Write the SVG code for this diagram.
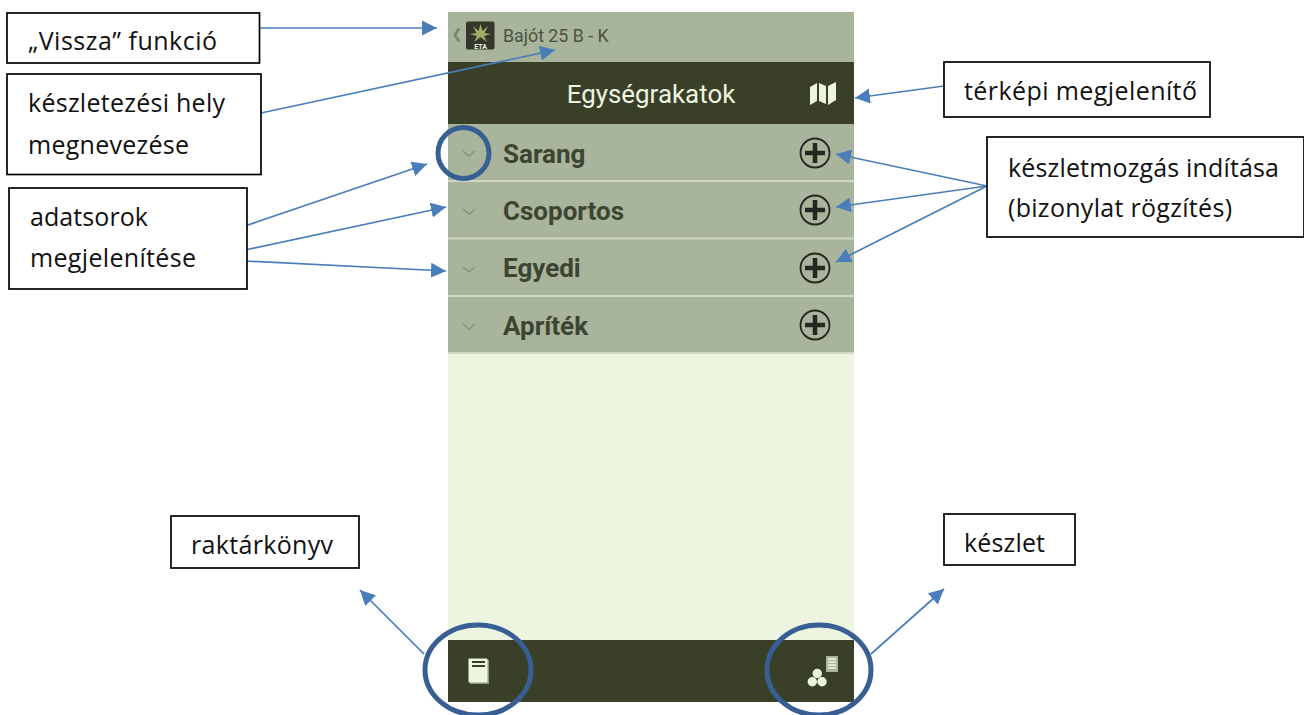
<svg xmlns="http://www.w3.org/2000/svg" width="1304" height="715" viewBox="0 0 1304 715">
<style>
.box{fill:#fff;stroke:#000;stroke-width:1.7}
.lbl{font-family:"Open Sans","Noto Sans",sans-serif;font-size:25px;fill:#111}
.r{font-family:Roboto,sans-serif}
.row{font-family:Roboto,sans-serif;font-weight:700;font-size:26px;fill:#3c4531}
.con{fill:none;stroke:#4a7ebb;stroke-width:1.7;marker-end:url(#a)}
.ring{fill:none;stroke:#375f93;stroke-width:5}
.chev{fill:none;stroke:#8a9580;stroke-width:1.6}
.plus{fill:none;stroke:#23271f;stroke-width:1.8}
.plusb{stroke:#23271f;stroke-width:4.500}
.sep{stroke:#d0d8c4;stroke-width:2}
</style>
<defs>
<marker id="a" markerUnits="userSpaceOnUse" markerWidth="16" markerHeight="15" refX="15" refY="7.500" orient="auto"><path d="M0 0L15 7.500L0 15Z" fill="#4a7ebb"/></marker>
</defs>
<rect width="1304" height="715" fill="#fff"/>
<g id="screen">
<rect x="448" y="12" width="406" height="690" fill="#edf5e0"/>
<rect x="448" y="12" width="406" height="50" fill="#a8b49b"/>
<rect x="448" y="62" width="406" height="62" fill="#3a3f28"/>
<rect x="448" y="124" width="406" height="230" fill="#a8b49b"/>
<line class="sep" x1="448" y1="181" x2="854" y2="181"/>
<line class="sep" x1="448" y1="238.500" x2="854" y2="238.500"/>
<line class="sep" x1="448" y1="296" x2="854" y2="296"/>
<line class="sep" x1="448" y1="353" x2="854" y2="353"/>
<rect x="448" y="640" width="406" height="62" fill="#3a3f28"/>
<path d="M459 28.500L455 35L459 41.500" fill="none" stroke="#7b8771" stroke-width="3"/>
<rect x="466" y="21.500" width="28.500" height="28" rx="2" fill="#33382a"/>
<path d="M480.500 24L482.500 31L488 26L484.500 33L491 34L484 36L487 42L480.500 37L474 42L477 36L470 34L476.500 33L473 26L478.500 31Z" fill="#a3ad6a"/>
<text x="480.500" y="49" text-anchor="middle" font-family="Roboto,sans-serif" font-size="7" font-weight="700" fill="#edf5e0">ETA</text>
<text class="r" x="503" y="42" font-size="17.800" fill="#4b5241">Bajót 25 B - K</text>
<text class="r" x="651" y="103" text-anchor="middle" font-size="25.900" fill="#edf5e0">Egységrakatok</text>
<path d="M810 87L817 83V101L810 105ZM819 83L826 86V104L819 101ZM828 86L836 82V100L828 105Z" fill="#edf5e0"/>
<text class="row" x="503" y="163">Sarang</text>
<text class="row" x="503" y="220">Csoportos</text>
<text class="row" x="503" y="277">Egyedi</text>
<text class="row" x="503" y="335">Apríték</text>
<path class="chev" d="M463 151L469 156L475 151M463 209L469 214L475 209M463 267L469 272L475 267M463 324L469 329L475 324"/>
<circle class="plus" cx="815" cy="153" r="14.500"/><path class="plusb" d="M805 153H825M815 143V163"/>
<circle class="plus" cx="815" cy="210" r="14.500"/><path class="plusb" d="M805 210H825M815 200V220"/>
<circle class="plus" cx="815" cy="268" r="14.500"/><path class="plusb" d="M805 268H825M815 258V278"/>
<circle class="plus" cx="815" cy="325" r="14.500"/><path class="plusb" d="M805 325H825M815 315V335"/>
<rect x="470" y="660" width="19" height="24" fill="#8f9980"/>
<rect x="468.500" y="658.500" width="19" height="24" rx="1" fill="#edf5e0"/>
<path d="M472 662H485M472 666H485" stroke="#3a3f28" stroke-width="2"/>
<rect x="826" y="656" width="12" height="16" fill="#a8b49b"/>
<path d="M828 659H836M828 662H836M828 665H836M828 668H836" stroke="#edf5e0" stroke-width="1.500"/>
<circle cx="817.300" cy="673.500" r="4.700" fill="#edf5e0"/><circle cx="812.300" cy="681.700" r="4.700" fill="#edf5e0"/><circle cx="822" cy="681.700" r="4.700" fill="#edf5e0"/>
</g>
<g id="connectors">
<path class="con" d="M260 28H437"/>
<path class="con" d="M261 113L555 50"/>
<path class="con" d="M944 86L855 98"/>
<path class="con" d="M245 226L427 164"/>
<path class="con" d="M245 250L446 207"/>
<path class="con" d="M245 261L446 271"/>
<path class="con" d="M987 186L836 154"/>
<path class="con" d="M987 186L836 207"/>
<path class="con" d="M987 186L836 262"/>
<path class="con" d="M424 654L360 590"/>
<path class="con" d="M871 654L944 589"/>
</g>
<g id="rings">
<circle class="ring" cx="463.500" cy="153" r="25.500"/>
<ellipse class="ring" cx="478" cy="670" rx="53" ry="45"/>
<ellipse class="ring" cx="819" cy="670" rx="52" ry="45"/>
</g>
<g id="n1"><rect class="box" x="7" y="13" width="252.500" height="50"/><text class="lbl" x="28" y="50" textLength="189">„Vissza” funkció</text></g>
<g id="n2"><rect class="box" x="7" y="74" width="254" height="100.500"/><text class="lbl" x="28" y="112" textLength="197">készletezési hely</text><text class="lbl" x="28" y="154" textLength="161">megnevezése</text></g>
<g id="n3"><rect class="box" x="9" y="188" width="238" height="101"/><text class="lbl" x="30" y="226" textLength="118">adatsorok</text><text class="lbl" x="30" y="267" textLength="166">megjelenítése</text></g>
<g id="n4"><rect class="box" x="944" y="62" width="266" height="55"/><text class="lbl" x="964" y="100" textLength="233">térképi megjelenítő</text></g>
<g id="n5"><rect class="box" x="987" y="137" width="317" height="100"/><text class="lbl" x="1008" y="177" textLength="271">készletmozgás indítása</text><text class="lbl" x="1008" y="217" textLength="224">(bizonylat rögzítés)</text></g>
<g id="n6"><rect class="box" x="171" y="516" width="188" height="52"/><text class="lbl" x="191" y="554" textLength="142">raktárkönyv</text></g>
<g id="n7"><rect class="box" x="944" y="514" width="131" height="51"/><text class="lbl" x="964" y="552" textLength="81">készlet</text></g>
</svg>
